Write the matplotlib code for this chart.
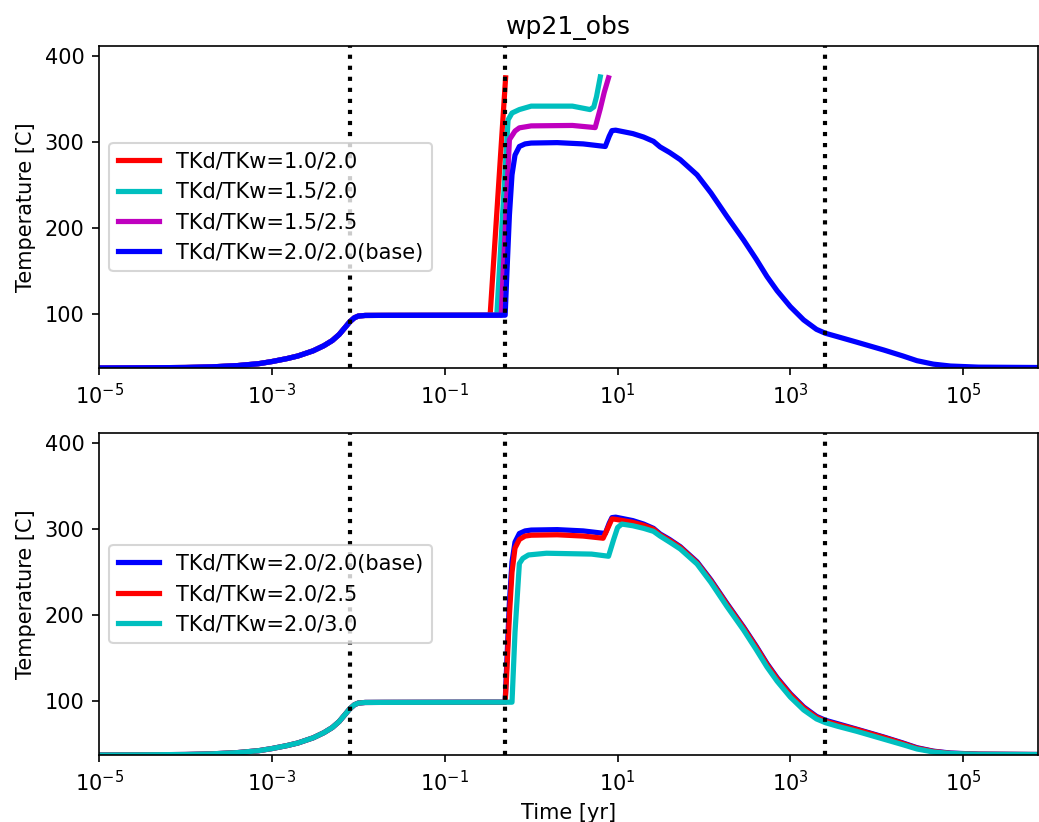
import matplotlib
matplotlib.use("Agg")
import matplotlib.pyplot as plt
import matplotlib.ticker as mticker

# heating stage shared by every run
t_heat = [1e-5, 3e-5, 1e-4, 2e-4, 4e-4, 7e-4, 1e-3, 1.5e-3, 2e-3, 3e-3, 4e-3, 5e-3, 6e-3, 7e-3, 8e-3,
          9e-3, 1e-2, 1.2e-2, 2e-2, 0.3]
T_heat = [37, 37.2, 37.6, 38.3, 39.8, 42, 44.5, 48, 51, 57, 63, 69, 76, 84, 91,
          95.5, 97.5, 98.2, 98.3, 98.5]

# base case cooling tail (used in both panels)
t_tail = [9.5, 15, 20, 26, 31, 40, 53, 83, 120, 184, 287, 400, 535, 700, 995, 1420, 2000, 2530, 3500,
          5890, 11970, 20000, 29100, 45000, 70800, 1.5e5, 1e6]
T_tail_base = [314, 310, 306, 301, 294.5, 288, 279.7, 262, 241, 213.5, 186, 164, 143.5, 127, 108.5, 93, 82,
               77.5, 73.5, 67, 58, 51, 45.5, 41.5, 39.3, 38, 37.5]
T_tail_25 = [311.5, 308, 304.5, 300, 293.5, 287, 279, 261, 240, 212.5, 185, 163, 142.5, 126, 107.5, 92, 81,
             76.5, 72.5, 66.5, 57.5, 50.5, 45, 41.2, 39, 38, 37.5]

# top panel
t_10_20 = [0.335, 0.506]
T_10_20 = [98.5, 375]
t_15_20 = [0.40, 0.54, 0.6, 0.73, 1.0, 3.0, 4.8, 5.3, 5.7, 6.3]
T_15_20 = [98.5, 326, 334, 338, 342, 342, 338, 341, 353, 376]
t_15_25 = [0.45, 0.56, 0.65, 0.73, 1.0, 3.0, 5.5, 6.3, 7.0, 7.85]
T_15_25 = [98.5, 303, 313, 316.7, 319, 319.5, 317, 339, 358, 375]
t_base = [0.5, 0.52, 0.56, 0.6, 0.65, 0.73, 0.85, 1.0, 2.0, 4.0, 7.2, 8.0, 8.6]
T_base = [98.5, 140, 215, 262, 285, 295, 298, 299, 299.5, 298, 295, 307, 313.5]

# bottom panel
t_20_25 = [0.5, 0.52, 0.56, 0.6, 0.65, 0.73, 0.85, 1.0, 2.0, 4.0, 6.8, 7.6, 8.6]
T_20_25 = [98.5, 130, 200, 250, 278, 288, 292, 293, 293.5, 292, 289.5, 300, 312]
t_20_30 = [0.6, 0.65, 0.73, 0.8, 0.93, 1.5, 5.0, 7.85, 9.0, 10, 11.2, 15, 20, 26, 31, 40, 53, 83, 120, 184,
           287, 400, 535, 700, 995, 1420, 2000, 2530, 3500, 5890, 11970, 20000, 29100, 45000, 70800, 1.5e5, 1e6]
T_20_30 = [98.5, 180, 260, 266, 270, 272, 271, 268.5, 288, 302, 306, 304, 301, 297.5, 292, 285, 277, 259.5,
           238, 210, 182.5, 160, 139.5, 123, 104.5, 89.5, 79, 74.7, 70.5, 64.5, 55.5, 49, 44, 40.5, 38.8,
           37.8, 37.5]

# stage boundaries
t_marks = [8e-3, 0.5, 2500]

fig, (ax1, ax2) = plt.subplots(2, 1, figsize=(1039 / 150, 822 / 150), dpi=150)
fig.subplots_adjust(left=0.0953, right=0.999, top=0.944, bottom=0.0815, hspace=0.202)

lw = 2.5
ax1.plot(t_heat + t_10_20, T_heat + T_10_20, 'r-', lw=lw, label='TKd/TKw=1.0/2.0')
ax1.plot(t_heat + t_15_20, T_heat + T_15_20, 'c-', lw=lw, label='TKd/TKw=1.5/2.0')
ax1.plot(t_heat + t_15_25, T_heat + T_15_25, 'm-', lw=lw, label='TKd/TKw=1.5/2.5')
ax1.plot(t_heat + t_base + t_tail, T_heat + T_base + T_tail_base, 'b-', lw=lw, label='TKd/TKw=2.0/2.0(base)')

ax2.plot(t_heat + t_base + t_tail, T_heat + T_base + T_tail_base, 'b-', lw=lw, label='TKd/TKw=2.0/2.0(base)')
ax2.plot(t_heat + t_20_25 + t_tail, T_heat + T_20_25 + T_tail_25, 'r-', lw=lw, label='TKd/TKw=2.0/2.5')
ax2.plot(t_heat + t_20_30, T_heat + T_20_30, 'c-', lw=lw, label='TKd/TKw=2.0/3.0')

for ax in (ax1, ax2):
    for tm in t_marks:
        ax.axvline(tm, color='k', ls=':', lw=2)
    ax.set_xscale('log')
    ax.set_xlim(1e-5, 7.3e5)
    ax.set_ylim(37, 412)
    ax.set_xticks([1e-5, 1e-3, 1e-1, 1e1, 1e3, 1e5])
    ax.xaxis.set_minor_locator(mticker.NullLocator())
    ax.set_ylabel('Temperature [C]')
    ax.legend(loc='center left')

ax1.set_title('wp21_obs')
ax2.set_xlabel('Time [yr]')

plt.savefig('out.png', dpi=150)
